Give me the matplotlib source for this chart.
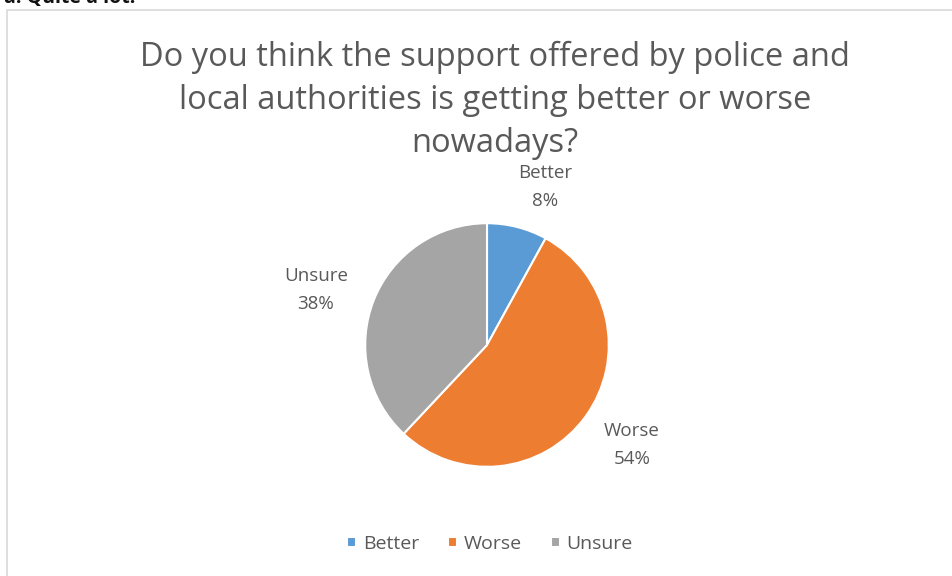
import matplotlib.pyplot as plt
from matplotlib.patches import Rectangle

answers = ['Better', 'Worse', 'Unsure']
shares = [8, 54, 38]
colors = ['#5B9BD5', '#ED7D31', '#A5A5A5']

W, H = 952, 576
fig = plt.figure(figsize=(W / 100, H / 100), dpi=100)
plt.rcParams['font.family'] = ['Open Sans', 'DejaVu Sans']

# chart frame, cut off at the right and bottom
fig.patches.append(Rectangle((7 / W, -0.01), 1.0, (H - 10) / H + 0.01,
                             transform=fig.transFigure, fill=False,
                             edgecolor='#D9D9D9', linewidth=1.2))

# tail of the line above the chart
fig.text(4 / W, 1 - 8 / H, 'a. Quite a lot.', fontsize=14, fontweight='bold',
         color='#111111', va='bottom', ha='left')

fig.text(495 / W, 1 - 100 / H,
         'Do you think the support offered by police and\n'
         'local authorities is getting better or worse\nnowadays?',
         ha='center', va='center', fontsize=23.5, color='#595959',
         linespacing=1.4)

cx, cy, r = 487, 345, 123
ax = fig.add_axes([(cx - r) / W, 1 - (cy + r) / H, 2 * r / W, 2 * r / H])
wedges, _ = ax.pie(shares, colors=colors, startangle=90, counterclock=False,
                   wedgeprops=dict(edgecolor='white', linewidth=1.5))
ax.set_xlim(-1.01, 1.01)
ax.set_ylim(-1.01, 1.01)
ax.set_aspect('equal')

label_pos = [(545, 187), (632, 445), (316, 290)]
for name, val, (lx, ly) in zip(answers, shares, label_pos):
    fig.text(lx / W, 1 - ly / H, f'{name}\n{val}%', ha='center', va='center',
             fontsize=13.5, color='#595959', linespacing=1.75)

fig.legend(wedges, answers, loc='center', bbox_to_anchor=(490 / W, 1 - 544 / H),
           ncol=3, frameon=False, fontsize=14, labelcolor='#595959',
           handlelength=0.45, handleheight=0.45, handletextpad=0.35,
           columnspacing=1.5)

fig.savefig('out.png', dpi=100)
